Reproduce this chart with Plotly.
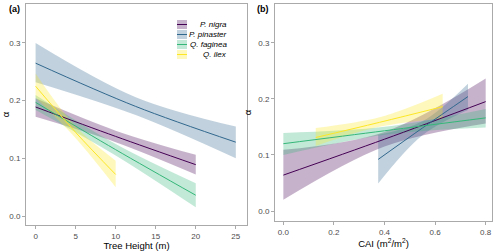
import plotly.graph_objects as go

species = ["P. nigra", "P. pinaster", "Q. faginea", "Q. ilex"]
colors = ["#440154", "#31688E", "#35B779", "#FDE725"]
fills = ["rgba(68,1,84,0.3)", "rgba(49,104,142,0.3)", "rgba(53,183,121,0.3)", "rgba(253,231,37,0.3)"]

# Panel (a): alpha vs tree height
a_x = {
    "P. nigra": [0, 10, 20],
    "P. pinaster": [0, 12.5, 25],
    "Q. faginea": [0, 10, 20],
    "Q. ilex": [0, 5, 10],
}
a_fit = {
    "P. nigra": [0.189, 0.138, 0.089],
    "P. pinaster": [0.265, 0.190, 0.128],
    "Q. faginea": [0.197, 0.115, 0.036],
    "Q. ilex": [0.225, 0.145, 0.072],
}
a_lo = {
    "P. nigra": [0.172, 0.128, 0.072],
    "P. pinaster": [0.232, 0.175, 0.100],
    "Q. faginea": [0.184, 0.105, 0.015],
    "Q. ilex": [0.205, 0.135, 0.050],
}
a_hi = {
    "P. nigra": [0.204, 0.148, 0.106],
    "P. pinaster": [0.300, 0.206, 0.155],
    "Q. faginea": [0.210, 0.125, 0.057],
    "Q. ilex": [0.247, 0.155, 0.096],
}

# Panel (b): alpha vs CAI
b_x = {
    "P. nigra": [0, 0.4, 0.8],
    "P. pinaster": [0.375, 0.55, 0.73],
    "Q. faginea": [0, 0.4, 0.8],
    "Q. ilex": [0.128, 0.38, 0.63],
}
b_fit = {
    "P. nigra": [0.064, 0.128, 0.195],
    "P. pinaster": [0.092, 0.148, 0.204],
    "Q. faginea": [0.120, 0.143, 0.166],
    "Q. ilex": [0.131, 0.158, 0.186],
}
b_lo = {
    "P. nigra": [0.020, 0.115, 0.156],
    "P. pinaster": [0.049, 0.135, 0.180],
    "Q. faginea": [0.100, 0.136, 0.149],
    "Q. ilex": [0.116, 0.150, 0.165],
}
b_hi = {
    "P. nigra": [0.109, 0.141, 0.236],
    "P. pinaster": [0.136, 0.160, 0.227],
    "Q. faginea": [0.139, 0.150, 0.182],
    "Q. ilex": [0.148, 0.167, 0.209],
}

a_xticks = [0, 5, 10, 15, 20, 25]
b_xticks = [0.0, 0.2, 0.4, 0.6, 0.8]
b_xtick_labels = ["0.0", "0.2", "0.4", "0.6", "0.8"]
yticks = [0.0, 0.1, 0.2, 0.3]
ytick_labels = ["0.0", "0.1", "0.2", "0.3"]

fig = go.Figure()

def add_panel(xd, fit, lo, hi, xa, ya):
    for sp, c, f in zip(species, colors, fills):
        xs = xd[sp]
        fig.add_trace(go.Scatter(
            x=xs, y=lo[sp], mode="lines",
            line=dict(width=0, shape="spline", color=f),
            hoverinfo="skip", showlegend=False, xaxis=xa, yaxis=ya))
        fig.add_trace(go.Scatter(
            x=xs, y=hi[sp], mode="lines", fill="tonexty", fillcolor=f,
            line=dict(width=0, shape="spline", color=f),
            hoverinfo="skip", showlegend=False, xaxis=xa, yaxis=ya))
    for sp, c in zip(species, colors):
        fig.add_trace(go.Scatter(
            x=xd[sp], y=fit[sp], mode="lines",
            line=dict(color=c, width=1, shape="spline"),
            showlegend=False, xaxis=xa, yaxis=ya, name=sp))

add_panel(a_x, a_fit, a_lo, a_hi, "x", "y")
add_panel(b_x, b_fit, b_lo, b_hi, "x2", "y2")

tickfont = dict(family="Liberation Sans, Arial", size=8, color="#4d4d4d")
axis_common = dict(showgrid=False, zeroline=False, showline=True, mirror=True,
                   linecolor="#aaaaaa", linewidth=1, ticks="outside", ticklen=3,
                   tickcolor="#aaaaaa", tickfont=tickfont)
titlefont = dict(family="Liberation Sans, Arial", size=9.5, color="#000000")

fig.update_layout(
    width=500, height=251,
    margin=dict(l=0, r=0, t=0, b=0),
    paper_bgcolor="white", plot_bgcolor="white",
    xaxis=dict(domain=[0.052, 0.494], range=[-1.2, 26.4], tickvals=a_xticks,
               title=dict(text="Tree Height (m)", font=titlefont, standoff=0),
               anchor="y", **axis_common),
    yaxis=dict(domain=[1 - 225 / 251, 1 - 4 / 251], range=[-0.0156, 0.3676],
               tickvals=yticks, ticktext=ytick_labels,
               title=dict(text="α", font=titlefont, standoff=4),
               anchor="x", **axis_common),
    xaxis2=dict(domain=[0.55, 0.984], range=[-0.033, 0.825], tickvals=b_xticks,
                ticktext=b_xtick_labels,
                title=dict(text="CAI (m<sup>2</sup>/m<sup>2</sup>)", font=titlefont, standoff=0),
                anchor="y2", **axis_common),
    yaxis2=dict(domain=[1 - 221 / 251, 1 - 4 / 251], range=[-0.0178, 0.369],
                tickvals=yticks, ticktext=ytick_labels,
                title=dict(text="α", font=titlefont, standoff=4),
                anchor="x2", **axis_common),
)

# panel labels
fig.add_annotation(text="<b>(a)</b>", x=7 / 500, y=1 - 9 / 251, xref="paper", yref="paper",
                   showarrow=False, xanchor="left", yanchor="middle",
                   font=dict(family="Liberation Sans, Arial", size=9, color="black"))
fig.add_annotation(text="<b>(b)</b>", x=255 / 500, y=1 - 9 / 251, xref="paper", yref="paper",
                   showarrow=False, xanchor="left", yanchor="middle",
                   font=dict(family="Liberation Sans, Arial", size=9, color="black"))

# manual legend (keys right-aligned text, as in the reference)
for i, (sp, c, f) in enumerate(zip(species, colors, fills)):
    top = 20 + i * 10
    fig.add_shape(type="rect", xref="paper", yref="paper",
                  x0=177 / 500, x1=187 / 500, y0=1 - (top + 9) / 251, y1=1 - top / 251,
                  fillcolor=f, line=dict(width=0))
    fig.add_shape(type="line", xref="paper", yref="paper",
                  x0=177 / 500, x1=187 / 500, y0=1 - (top + 4.5) / 251, y1=1 - (top + 4.5) / 251,
                  line=dict(color=c, width=1))
    fig.add_annotation(text="<i>" + sp + "</i>", x=229 / 500, y=1 - (top + 4.5) / 251,
                       xref="paper", yref="paper", showarrow=False,
                       xanchor="right", yanchor="middle",
                       font=dict(family="Liberation Sans, Arial", size=8, color="black"))

fig.write_html("out.html", config={"displayModeBar": False},
               post_script="document.body.style.margin='0';document.body.style.overflow='hidden';")
